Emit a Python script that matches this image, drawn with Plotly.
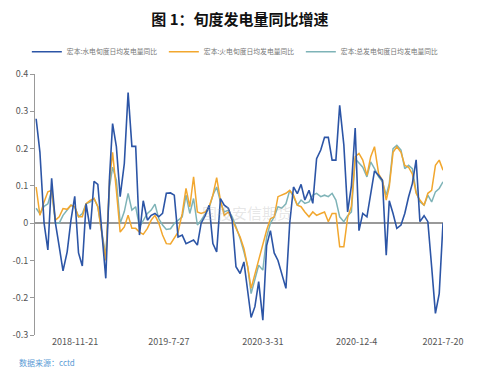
import calendar
import datetime as dt
import plotly.graph_objects as go

# dekad dates (10th, 20th, month end) from 2018-08-10 to 2021-07-20
dates = []
y, m = 2018, 8
while len(dates) < 107:
    last = calendar.monthrange(y, m)[1]
    for d in (10, 20, last):
        if len(dates) < 107:
            dates.append(dt.date(y, m, d).isoformat())
    m += 1
    if m > 12:
        m = 1
        y += 1

hydro = [0.28, 0.19, 0.0, -0.072, 0.12, 0.0, -0.063, -0.128, -0.077, 0.008,
         0.072, -0.08, -0.115, 0.052, -0.017, 0.112, 0.104, -0.03, -0.148, 0.125,
         0.267, 0.205, 0.071, 0.16, 0.35, 0.206, 0.206, -0.032, 0.06, 0.008,
         0.021, 0.026, 0.017, 0.026, 0.08, 0.081, 0.075, -0.037, -0.032, -0.055,
         -0.05, -0.045, -0.059, 0.0, 0.021, 0.048, -0.055, -0.077, 0.066, 0.048,
         0.04, 0.008, -0.117, -0.135, -0.104, -0.189, -0.253, -0.224, -0.157, -0.26,
         -0.06, -0.02, -0.08, -0.1, -0.135, -0.175, 0.0, 0.097, 0.079, 0.104,
         0.062, 0.088, 0.053, 0.173, 0.196, 0.23, 0.23, 0.169, 0.169, 0.316,
         0.21, 0.03, 0.1, 0.255, -0.02, 0.026, 0.017, 0.08, 0.14, 0.128,
         0.115, -0.086, 0.06, 0.026, -0.014, -0.005, 0.026, 0.07, 0.106, 0.17,
         0.004, 0.02, 0.004, -0.117, -0.242, -0.189, 0.0]

thermal = [0.097, 0.021, 0.057, 0.084, 0.088, 0.008, 0.017, 0.039, 0.037, 0.048,
           0.044, 0.017, 0.017, 0.052, 0.061, 0.066, 0.044, -0.028, -0.1, 0.115,
           0.19, 0.088, -0.024, -0.01, 0.021, -0.014, -0.014, -0.024, -0.03, -0.014,
           0.008, 0.021, 0.0, -0.032, -0.055, -0.056, -0.041, -0.024, 0.026, 0.093,
           0.044, 0.124, 0.03, 0.026, 0.03, 0.044, 0.075, 0.122, 0.061, 0.021,
           0.03, 0.008, -0.01, -0.037, -0.068, -0.117, -0.175, -0.135, -0.095, -0.055,
           -0.019, 0.012, 0.017, 0.071, 0.075, 0.08, 0.088, 0.075, 0.048, 0.044,
           0.03, 0.017, 0.03, 0.021, 0.026, 0.03, 0.004, 0.026, 0.026, -0.063,
           -0.063, 0.015, 0.045, 0.178, 0.187, 0.169, 0.128, 0.178, 0.205, 0.132,
           0.115, 0.062, 0.097, 0.19, 0.205, 0.19, 0.155, 0.15, 0.132, 0.08,
           0.062, 0.048, 0.08, 0.088, 0.155, 0.169, 0.142]

total = [0.04, 0.025, 0.045, 0.052, 0.088, 0.0, 0.0, 0.021, 0.035, 0.048,
         0.044, 0.017, 0.026, 0.052, 0.057, 0.066, 0.044, -0.024, -0.09, 0.097,
         0.15, 0.115, 0.0, 0.031, 0.08, 0.035, 0.044, -0.01, 0.008, 0.026,
         0.035, 0.051, 0.012, -0.005, -0.017, -0.015, -0.001, 0.008, 0.017, 0.075,
         0.026, 0.066, -0.005, 0.008, 0.026, 0.04, 0.075, 0.097, 0.057, 0.03,
         0.035, 0.017, -0.01, -0.041, -0.077, -0.117, -0.189, -0.153, -0.113, -0.126,
         -0.037, 0.0, 0.017, 0.044, 0.04, 0.052, 0.088, 0.071, 0.048, 0.062,
         0.053, 0.057, 0.075, 0.08, 0.071, 0.075, 0.071, 0.08, 0.062, 0.017,
         0.004, 0.02, 0.03, 0.173, 0.16, 0.15, 0.124, 0.164, 0.146, 0.124,
         0.111, 0.075, 0.106, 0.2, 0.209, 0.196, 0.146, 0.155, 0.146, 0.084,
         0.057, 0.048, 0.075, 0.057, 0.084, 0.093, 0.111]

names = ["宏本:水电旬度日均发电量同比", "宏本:火电旬度日均发电量同比", "宏本:总发电旬度日均发电量同比"]
colors = ["#2C55A6", "#F2A72E", "#7EB3B7"]

tick_vals = ["2018-11-21", "2019-07-27", "2020-03-31", "2020-12-04", "2021-07-20"]
tick_text = ["2018-11-21", "2019-7-27", "2020-3-31", "2020-12-4", "2021-7-20"]
y_ticks = [0.4, 0.3, 0.2, 0.1, 0, -0.1, -0.2, -0.3]

fig = go.Figure()
series = [hydro, thermal, total]
widths = [1.6, 1.5, 1.5]
for k in (2, 1, 0):
    fig.add_trace(go.Scatter(
        x=dates, y=series[k], name=names[k], mode="lines",
        line=dict(color=colors[k], width=widths[k]),
    ))

fig.update_layout(
    width=500, height=391,
    margin=dict(l=35, r=57, t=74, b=56),
    paper_bgcolor="white", plot_bgcolor="white",
    font=dict(family="Noto Sans CJK SC, sans-serif", color="#555"),
    title=dict(text="<b>图 1：旬度发电量同比增速</b>", x=0.48, xanchor="center",
               y=0.95, yanchor="middle",
               font=dict(size=15, color="#111", family="Noto Sans CJK SC")),
    showlegend=True,
    legend=dict(orientation="h", x=-0.02, xanchor="left",
                y=1.085, yanchor="middle",
                traceorder="reversed", font=dict(size=6.8, color="#777"),
                itemwidth=30, entrywidth=92, entrywidthmode="pixels",
                bgcolor="rgba(0,0,0,0)"),
    xaxis=dict(type="date", range=["2018-08-07", "2021-07-20"],
               tickvals=tick_vals, ticktext=tick_text, showgrid=False,
               showline=False, ticks="", zeroline=False,
               tickfont=dict(size=9, color="#555")),
    yaxis=dict(range=[-0.3, 0.4], tickvals=y_ticks,
               ticktext=[str(v) for v in y_ticks], showgrid=False,
               showline=True, linecolor="#999", linewidth=1,
               ticks="outside", ticklen=4, tickcolor="#999",
               zeroline=True, zerolinecolor="#999", zerolinewidth=1.5,
               tickfont=dict(size=9, color="#555")),
    annotations=[
        dict(text="国投安信期货", xref="paper", yref="paper", x=0.52, y=0.47,
             showarrow=False, font=dict(size=15, color="rgba(170,170,170,0.3)")),
        dict(text="数据来源：cctd", xref="paper", yref="paper", x=-0.043, y=-0.105,
             xanchor="left", yanchor="middle", showarrow=False,
             font=dict(size=8, color="#5B9BD5")),
    ],
)

fig.write_html("out.html")
